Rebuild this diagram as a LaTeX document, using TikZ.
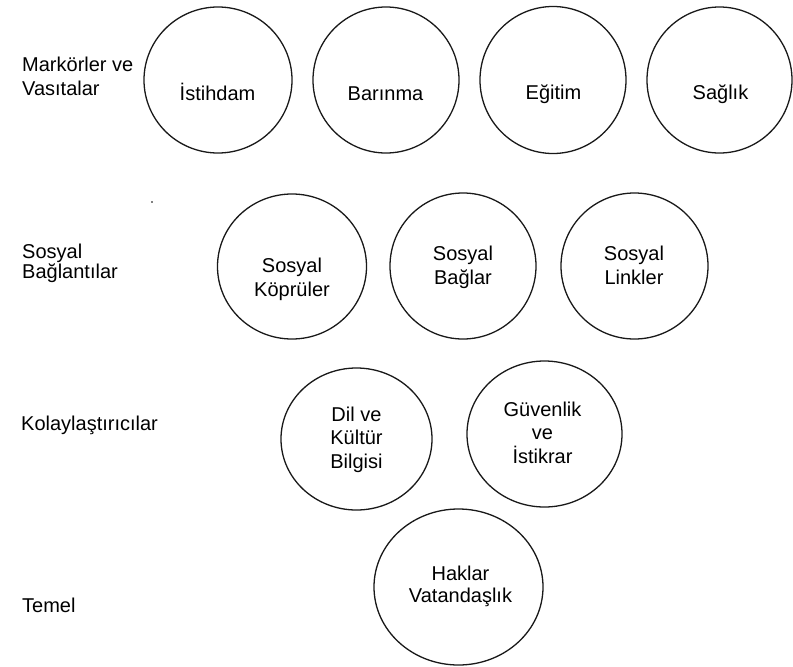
\documentclass[tikz,border=0pt]{standalone}
\usepackage{fontspec}
\setmainfont{Liberation Sans}
\usetikzlibrary{shapes.geometric}
\newcommand{\topstrut}{\rule{0pt}{19pt}}
\newcommand{\botstrut}{\rule[-6pt]{0pt}{6pt}}
\begin{document}
\begin{tikzpicture}[x=1pt,y=-1pt,
  ring/.style={draw=black!90,line width=1.3pt,ellipse,inner sep=0pt,outer sep=0pt},
  txt/.style={align=center,inner sep=0pt,font=\fontsize{20}{23.5}\selectfont,
    execute at begin node=\topstrut,execute at end node=\botstrut},
  side/.style={align=left,anchor=west,inner sep=0pt,font=\fontsize{20}{24}\selectfont,
    execute at begin node=\topstrut,execute at end node=\botstrut}]
\useasboundingbox[fill=white] (0,0) rectangle (793,667);
% left labels
\node[side] (l1) at (22,79.7) {Markörler ve\\Vasıtalar};
\node[side,font=\fontsize{20}{17}\selectfont] (l2) at (22,264.5) {Sosyal\\Bağlantılar};
\node[side] (l3) at (21,423.7) {Kolaylaştırıcılar};
\node[side] (l4) at (22,605.7) {Temel};
% row 1
\node[ring,minimum width=148pt,minimum height=146pt] (c1) at (218,80) {};
\node[ring,minimum width=146pt,minimum height=146pt] (c2) at (386,80) {};
\node[ring,minimum width=146pt,minimum height=147pt] (c3) at (553,80) {};
\node[ring,minimum width=145pt,minimum height=146pt] (c4) at (719.5,80) {};
\node[txt] (t1) at (217.5,93.7) {İstihdam};
\node[txt] (t2) at (385.5,93.7) {Barınma};
\node[txt] (t3) at (553.5,93) {Eğitim};
\node[txt] (t4) at (720.5,93) {Sağlık};
% dot
\fill (152,202) circle (0.8);
% row 2
\node[ring,minimum width=149pt,minimum height=145pt] (s1) at (292,266.5) {};
\node[ring,minimum width=146pt,minimum height=146pt] (s2) at (463,266) {};
\node[ring,minimum width=147pt,minimum height=146pt] (s3) at (634.5,266) {};
\node[txt] (u1) at (292,280.2) {Sosyal\\Köprüler};
\node[txt] (u2) at (463,268.2) {Sosyal\\Bağlar};
\node[txt] (u3) at (634,268.2) {Sosyal\\Linkler};
% row 3
\node[ring,minimum width=151pt,minimum height=142pt] (k1) at (356.5,439) {};
\node[ring,minimum width=155pt,minimum height=146pt] (k2) at (544.5,434) {};
\node[txt] (v1) at (356.5,440.7) {Dil ve\\Kültür\\Bilgisi};
\node[txt] (v2) at (542.5,435.7) {Güvenlik\\ve\\İstikrar};
% row 4
\node[ring,minimum width=169pt,minimum height=156pt] (h1) at (458.5,587) {};
\node[txt,font=\fontsize{20}{22}\selectfont] (w1) at (460.5,587.7) {Haklar\\Vatandaşlık};
\end{tikzpicture}
\end{document}
